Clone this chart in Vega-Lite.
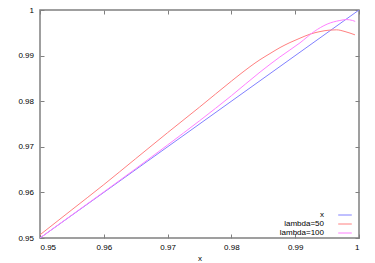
{
  "$schema": "https://vega.github.io/schema/vega-lite/v6.json",
  "width": 319,
  "height": 228,
  "autosize": "none",
  "padding": {"left": 40, "top": 10, "right": 16, "bottom": 25},
  "background": "white",
  "config": {
    "view": {"stroke": "#808080", "strokeWidth": 1.5},
    "font": "Liberation Sans",
    "axis": {"labelFont": "Liberation Sans", "labelFontSize": 8, "labelColor": "#000", "titleFont": "Liberation Sans", "titleFontSize": 8, "titleFontWeight": "normal", "titleColor": "#000", "grid": false, "domain": false, "tickColor": "#808080", "tickSize": -4, "tickWidth": 1}
  },
  "data": {"values": [
    {"x": 0.95, "y": 0.95, "series": "x"},
    {"x": 1.0, "y": 1.0, "series": "x"},
    {"x": 0.95, "y": 0.9507, "series": "lambda=50"},
    {"x": 0.955, "y": 0.9562, "series": "lambda=50"},
    {"x": 0.96, "y": 0.9617, "series": "lambda=50"},
    {"x": 0.965, "y": 0.9674, "series": "lambda=50"},
    {"x": 0.97, "y": 0.9731, "series": "lambda=50"},
    {"x": 0.975, "y": 0.9787, "series": "lambda=50"},
    {"x": 0.98, "y": 0.9844, "series": "lambda=50"},
    {"x": 0.98135, "y": 0.9859, "series": "lambda=50"},
    {"x": 0.98448, "y": 0.9891, "series": "lambda=50"},
    {"x": 0.98605, "y": 0.99045, "series": "lambda=50"},
    {"x": 0.98762, "y": 0.99176, "series": "lambda=50"},
    {"x": 0.98918, "y": 0.99286, "series": "lambda=50"},
    {"x": 0.99075, "y": 0.99382, "series": "lambda=50"},
    {"x": 0.99232, "y": 0.9947, "series": "lambda=50"},
    {"x": 0.99389, "y": 0.99527, "series": "lambda=50"},
    {"x": 0.99545, "y": 0.9956, "series": "lambda=50"},
    {"x": 0.9965, "y": 0.99565, "series": "lambda=50"},
    {"x": 0.99781, "y": 0.99527, "series": "lambda=50"},
    {"x": 0.99937, "y": 0.99455, "series": "lambda=50"},
    {"x": 0.95, "y": 0.95, "series": "lambda=100"},
    {"x": 0.955, "y": 0.95505, "series": "lambda=100"},
    {"x": 0.96, "y": 0.9601, "series": "lambda=100"},
    {"x": 0.965, "y": 0.9652, "series": "lambda=100"},
    {"x": 0.97, "y": 0.9704, "series": "lambda=100"},
    {"x": 0.975, "y": 0.9757, "series": "lambda=100"},
    {"x": 0.98, "y": 0.9812, "series": "lambda=100"},
    {"x": 0.9845, "y": 0.9864, "series": "lambda=100"},
    {"x": 0.9876, "y": 0.9897, "series": "lambda=100"},
    {"x": 0.99075, "y": 0.9928, "series": "lambda=100"},
    {"x": 0.993, "y": 0.9953, "series": "lambda=100"},
    {"x": 0.995, "y": 0.9969, "series": "lambda=100"},
    {"x": 0.997, "y": 0.9977, "series": "lambda=100"},
    {"x": 0.998, "y": 0.9979, "series": "lambda=100"},
    {"x": 0.999, "y": 0.9977, "series": "lambda=100"},
    {"x": 0.9994, "y": 0.9975, "series": "lambda=100"}
  ]},
  "layer": [
    {
      "mark": {"type": "line", "strokeWidth": 1, "interpolate": "monotone", "clip": true},
      "encoding": {
        "x": {"field": "x", "type": "quantitative", "scale": {"domain": [0.95, 1], "nice": false, "zero": false},
              "axis": {"orient": "bottom", "values": [0.95, 0.96, 0.97, 0.98, 0.99, 1], "format": "~g", "title": "x", "labelPadding": 9, "titlePadding": 3}},
        "y": {"field": "y", "type": "quantitative", "scale": {"domain": [0.95, 1], "nice": false, "zero": false},
              "axis": {"orient": "left", "values": [0.95, 0.96, 0.97, 0.98, 0.99, 1], "format": "~g", "title": null, "labelPadding": 10.5}},
        "color": {"field": "series", "type": "nominal",
                  "scale": {"domain": ["x", "lambda=50", "lambda=100"], "range": ["#8080ff", "#ff8080", "#ff80ff"]},
                  "legend": {"title": null, "orient": "none", "legendX": 300, "legendY": 200, "symbolType": "M-1.6,0H1.6", "symbolSize": 72, "symbolStrokeWidth": 1, "labelAlign": "right", "labelOffset": -26, "labelFontSize": 8, "labelFont": "Liberation Sans", "labelColor": "#000", "rowPadding": 0, "padding": 0}}
      }
    },
    {
      "mark": {"type": "line", "strokeOpacity": 0},
      "encoding": {
        "x": {"field": "x", "type": "quantitative", "axis": {"orient": "top", "values": [0.95, 0.96, 0.97, 0.98, 0.99, 1], "labels": false, "title": null}},
        "y": {"field": "y", "type": "quantitative", "axis": {"orient": "right", "values": [0.95, 0.96, 0.97, 0.98, 0.99, 1], "labels": false, "title": null}},
        "detail": {"field": "series"}
      }
    }
  ],
  "resolve": {"axis": {"x": "independent", "y": "independent"}}
}
